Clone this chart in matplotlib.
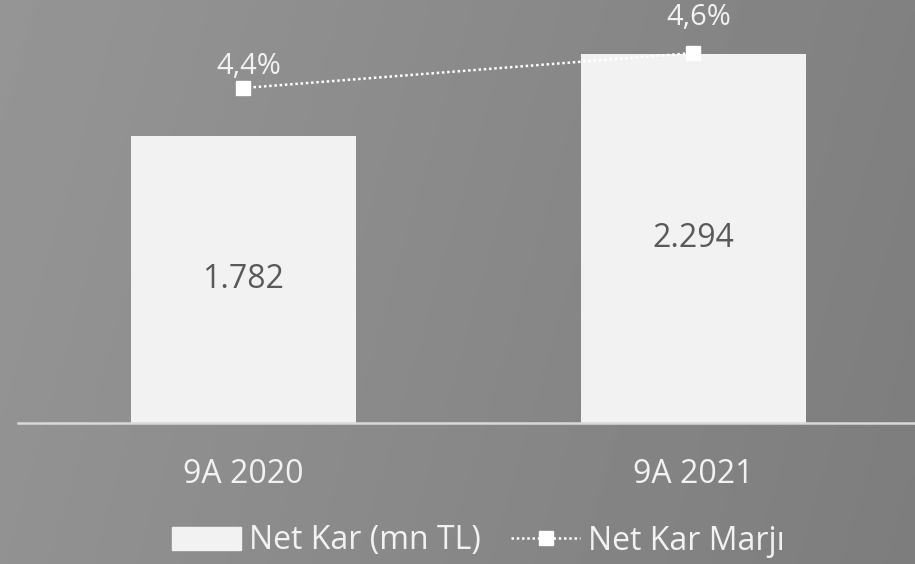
import matplotlib.pyplot as plt
from matplotlib.patches import Patch
from matplotlib.lines import Line2D
import numpy as np

plt.rcParams['font.family'] = ['Open Sans', 'DejaVu Sans']

categories = ['9A 2020', '9A 2021']
net_kar = [1782, 2294]
net_kar_labels = ['1.782', '2.294']
marj = [4.4, 4.6]
marj_labels = ['4,4%', '4,6%']

fig = plt.figure(figsize=(9.15, 5.64), dpi=100)

# gradient background, lighter on the left, darker to the right
bg = fig.add_axes([0, 0, 1, 1], zorder=-10)
xx, yy = np.meshgrid(np.linspace(0, 1, 200), np.linspace(0, 1, 200))
grad = 0.585 - 0.095 * (0.85 * xx + 0.15 * yy)
bg.imshow(grad, cmap='gray', vmin=0, vmax=1, aspect='auto', extent=[0, 1, 0, 1], origin='upper')
bg.axis('off')

ax = fig.add_axes([18 / 915, 0.25, 900 / 915, 0.7137])
ax.patch.set_alpha(0)
x = np.arange(len(categories))
bars = ax.bar(x, net_kar, width=0.5, color='#F2F2F2', zorder=2)
ax.set_xlim(-0.5, 1.5)
ax.set_ylim(0, 2500)
for b, lab in zip(bars, net_kar_labels):
    ax.text(b.get_x() + b.get_width() / 2, b.get_height() / 2, lab,
            ha='center', va='center', fontsize=23, color='#595959')

for s in ['top', 'right', 'left']:
    ax.spines[s].set_visible(False)
ax.spines['bottom'].set_color('#D9D9D9')
ax.spines['bottom'].set_linewidth(1.8)
ax.set_yticks([])
ax.set_xticks(x)
ax.set_xticklabels(categories, fontsize=23, color='#F2F2F2')
ax.tick_params(axis='x', length=0, pad=25)

dots = (0, (1, 1.1))
ax2 = ax.twinx()
ax2.set_ylim(2.486, 4.786)
ax2.plot(x, marj, linestyle=dots, color='white', linewidth=1.8, marker='s',
         markersize=10, markerfacecolor='white', markeredgecolor='white', zorder=3)
ax2.axis('off')
offsets = [22, 36]
for xi, v, lab, off in zip(x, marj, marj_labels, offsets):
    ax2.annotate(lab, (xi, v), xytext=(4, off * 0.72), textcoords='offset points',
                 ha='center', va='center', fontsize=21, color='#F2F2F2')

handles = [Patch(facecolor='#F2F2F2', edgecolor='#F2F2F2'),
           Line2D([0], [0], linestyle=dots, color='white', linewidth=1.8, marker='s',
                  markersize=10, markerfacecolor='white')]
fig.legend(handles, ['Net Kar (mn TL)', 'Net Kar Marjı'], loc='center',
           bbox_to_anchor=(478.5 / 915, 1 - 541 / 564), ncol=2, frameon=False,
           fontsize=23, labelcolor='#F2F2F2', handlelength=2.15, handleheight=0.72,
           handletextpad=0.25, columnspacing=0.95)

fig.savefig('out.png', dpi=100)
